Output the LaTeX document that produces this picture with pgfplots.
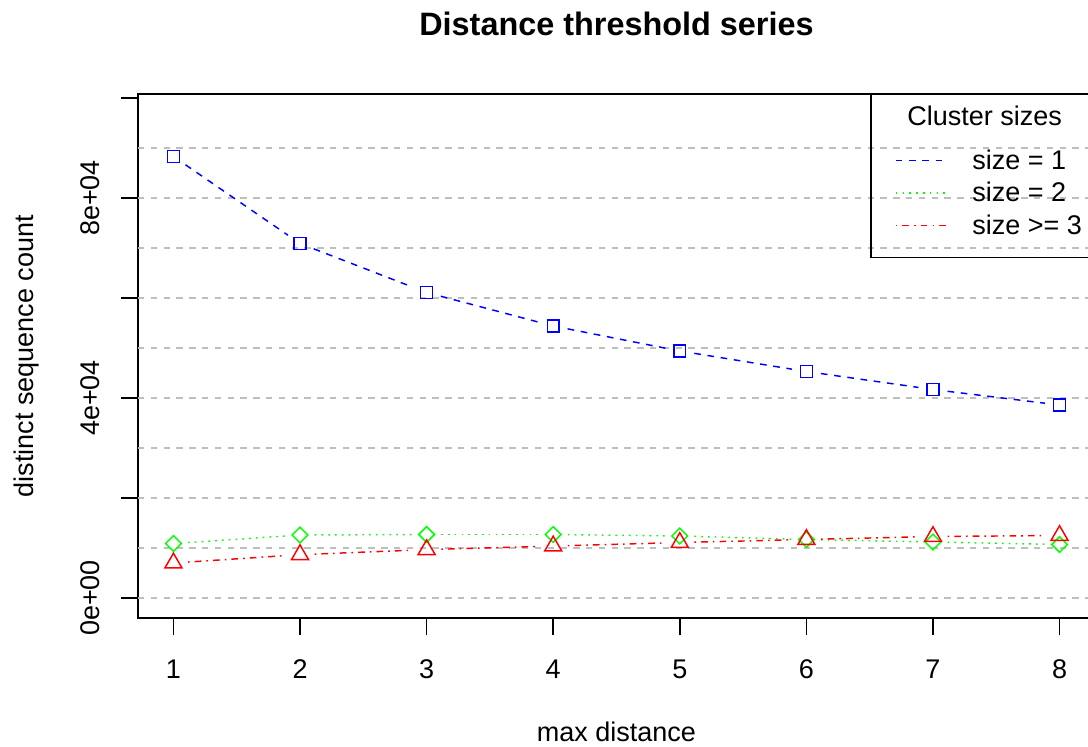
\documentclass[border=0pt]{standalone}
\usepackage{fontspec}
\setmainfont{Liberation Sans}
\usepackage{pgfplots}
\usepackage{pgfplotstable}
\pgfplotsset{compat=1.18}
\definecolor{gridgray}{RGB}{190,190,190}
\definecolor{rblue}{RGB}{0,0,255}
\definecolor{rgreen}{RGB}{0,255,0}
\definecolor{rred}{RGB}{255,0,0}
\newcommand\fs{\fontsize{20.25}{24.3}\selectfont}
\pgfplotstableread{
x y
1 88300
2 70900
3 61100
4 54400
5 49400
6 45300
7 41700
8 38600
}\tblue
\pgfplotstableread{
x y
1 10900
2 12600
3 12700
4 12700
5 12400
6 11700
7 11200
8 10700
}\tgreen
\pgfplotstableread{
x y
1 7000
2 8670
3 9670
4 10400
5 11100
6 11700
7 12300
8 12500
}\tred
% line segments with gaps around the points (R type "b")
\newcommand\segs[2]{%
  \addplot[#1, restrict x to domain=1:2] table {#2};
  \addplot[#1, restrict x to domain=2:3] table {#2};
  \addplot[#1, restrict x to domain=3:4] table {#2};
  \addplot[#1, restrict x to domain=4:5] table {#2};
  \addplot[#1, restrict x to domain=5:6] table {#2};
  \addplot[#1, restrict x to domain=6:7] table {#2};
  \addplot[#1, restrict x to domain=7:8] table {#2};
}
\tikzset{
  bstyle/.style={rblue, line width=1.1pt, dash pattern=on 5pt off 5pt},
  gstyle/.style={rgreen, line width=1.1pt, dash pattern=on 1.2pt off 3.9pt},
  rstyle/.style={rred, line width=1.1pt, dash pattern=on 1.2pt off 3.8pt on 5pt off 3.8pt},
}
\begin{document}
\begin{tikzpicture}
\path[use as bounding box] (-103.5pt,-96pt) rectangle (712.5pt,463.5pt);
\begin{axis}[
  at={(0,0)}, anchor=south west,
  scale only axis, width=717.75pt, height=393pt,
  xmin=0.72, xmax=8.28, ymin=-4000, ymax=100800,
  axis line style={line width=1.1pt},
  tick style={line width=1.1pt, black},
  tick align=outside, major tick length=12.75pt,
  tick pos=left,
  xtick={1,2,3,4,5,6,7,8}, xticklabels={1,2,3,4,5,6,7,8},
  ytick={0,20000,40000,60000,80000,100000},
  yticklabels={0e+00,,4e+04,,8e+04,},
  scaled y ticks=false,
  tick label style={font=\fs},
  xticklabel style={anchor=base, yshift=-32.25pt},
  yticklabel style={xshift=-16.25pt, rotate=90, anchor=base},
  extra y ticks={0,10000,20000,30000,40000,50000,60000,70000,80000,90000},
  extra y tick labels={},
  extra y tick style={grid=major, major tick length=0pt},
  major grid style={gridgray, line width=1pt, dash pattern=on 4.8pt off 4.8pt},
  title={Distance threshold series},
  every axis title/.style={at={(axis description cs:0.5,1.1113)}, anchor=base, font=\fontsize{24.3}{29}\selectfont\bfseries},
  xlabel={max distance},
  every axis x label/.style={at={(axis description cs:0.5,-0.236)}, anchor=base, font=\fs},
  ylabel={distinct sequence count},
  every axis y label/.style={at={(axis description cs:-0.1094,0.5)}, rotate=90, anchor=base, font=\fs},
  legend cell align=left,
  legend style={at={(axis description cs:0.7659,1)}, anchor=north west, line width=1.1pt, fill=none,
    inner xsep=18pt, inner ysep=11.75pt, outer sep=0pt, column sep=19.5pt, row sep=0pt,
    nodes={inner sep=0pt, font=\fs, text height=19pt, text depth=5.5pt}},
  legend image code/.code={\draw[#1, line width=1.1pt] (0pt,0pt) -- (37.5pt,0pt);},
]
\addlegendimage{empty legend}
\addlegendentry[text height=12.05pt, text depth=13.7pt]{\hspace*{-48.75pt}Cluster sizes}
\addlegendimage{bstyle}
\addlegendentry{size = 1}
\addlegendimage{gstyle}
\addlegendentry{size = 2}
\addlegendimage{rstyle}
\addlegendentry{size >= 3}

\segs{bstyle, forget plot, shorten <=11pt, shorten >=11pt}{\tblue}
\addplot[rblue, line width=1.1pt, only marks, mark=square, mark size=4.4pt, forget plot] table {\tblue};

\segs{gstyle, forget plot, shorten <=11pt, shorten >=11pt}{\tgreen}
\addplot[rgreen, line width=1.1pt, only marks, mark=square, mark size=4.16pt, mark options={rotate=45}, forget plot] table {\tgreen};

\segs{rstyle, forget plot, shorten <=11pt, shorten >=11pt}{\tred}
\addplot[rred, line width=1.1pt, only marks, mark=triangle, mark size=7.36pt, forget plot] table {\tred};
\end{axis}
\end{tikzpicture}
\end{document}
